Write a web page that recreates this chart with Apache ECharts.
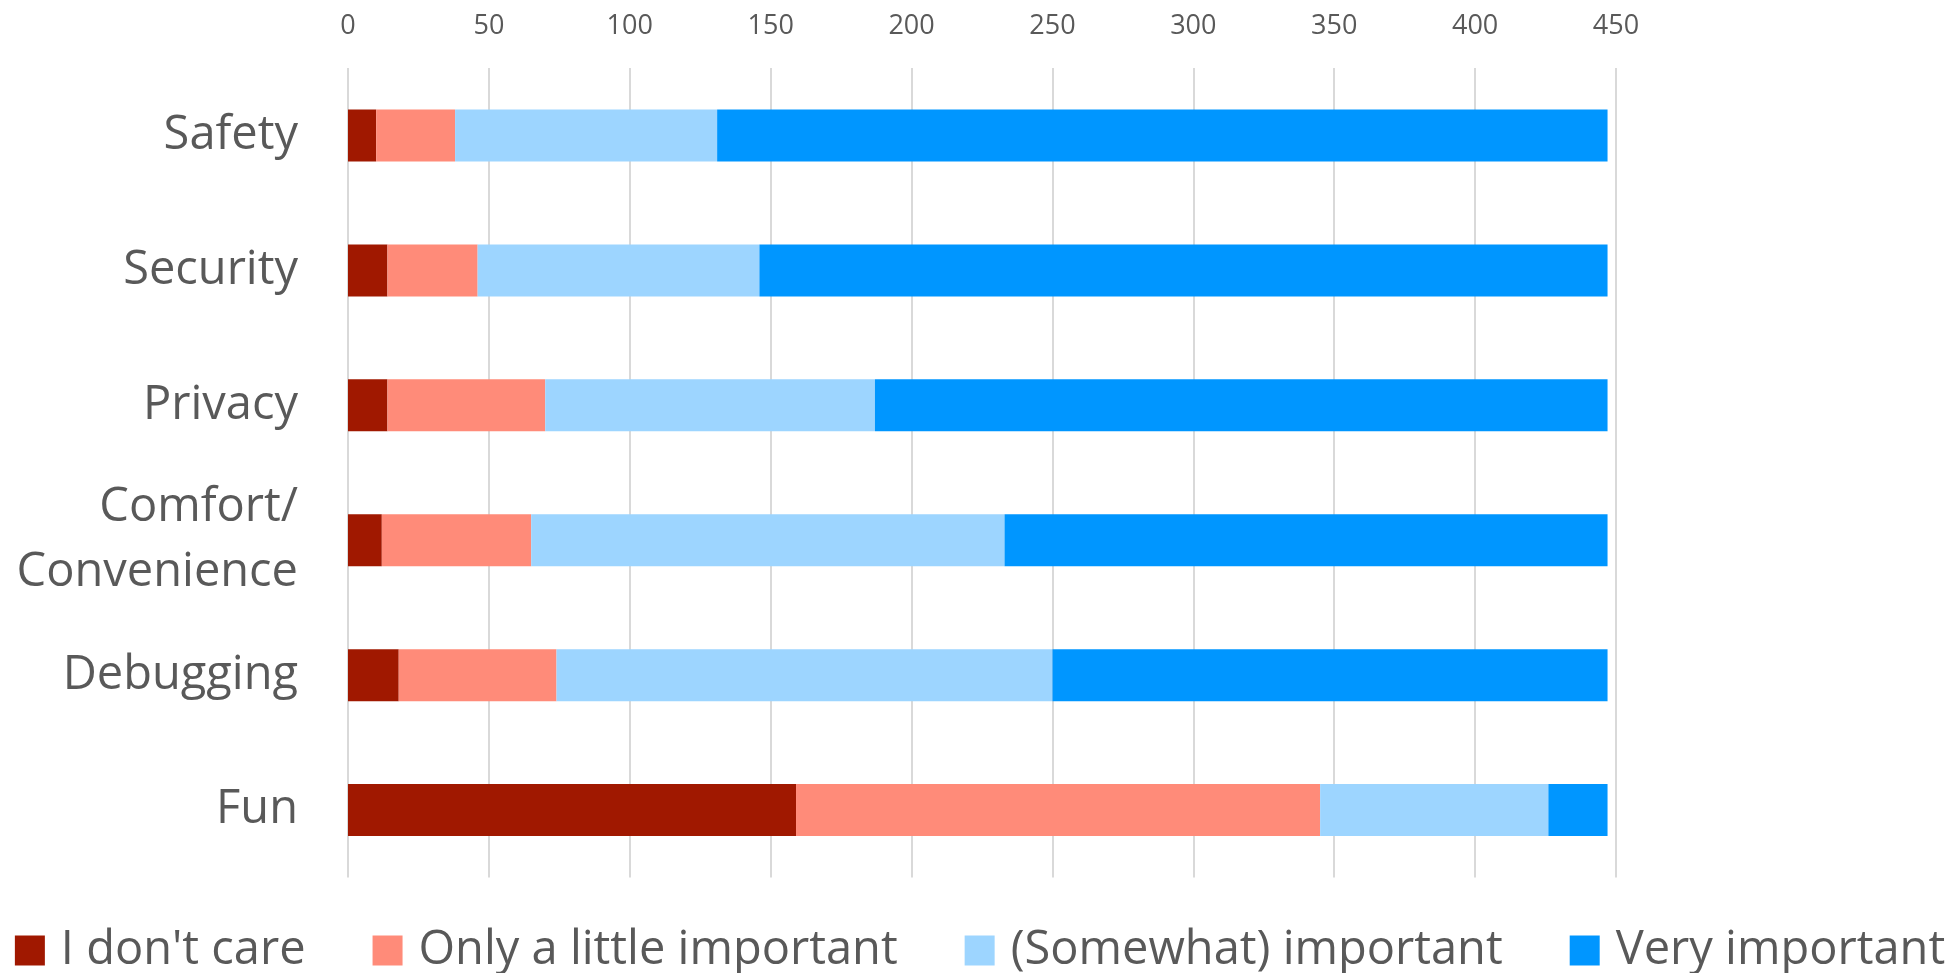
<!DOCTYPE html>
<html>
<head>
<meta charset="utf-8">
<script src="https://cdn.jsdelivr.net/npm/echarts@6/dist/echarts.min.js"></script>
<style>
html,body{margin:0;padding:0;background:#fff;}
#chart{width:1960px;height:973px;}
</style>
</head>
<body>
<div id="chart"></div>
<script>
const categories = ['Safety', 'Security', 'Privacy', 'Comfort/\nConvenience', 'Debugging', 'Fun'];
const seriesNames = ["I don't care", 'Only a little important', '(Somewhat) important', 'Very important'];
const dontCare = [10, 14, 14, 12, 18, 159];
const littleImportant = [28, 32, 56, 53, 56, 186];
const somewhatImportant = [93, 100, 117, 168, 176, 81];
const veryImportant = [316, 301, 260, 214, 197, 21];
const xTicks = { min: 0, max: 450, interval: 50 };
const colors = ['#A01800', '#FF8B79', '#9DD5FF', '#0096FF'];

const values = [dontCare, littleImportant, somewhatImportant, veryImportant];
const font = '"Open Sans", "Liberation Sans", sans-serif';
const chart = echarts.init(document.getElementById('chart'), null, {renderer: 'canvas'});
chart.setOption({
  animation: false,
  backgroundColor: '#ffffff',
  color: colors,
  grid: { left: 348, right: 344, top: 68, bottom: 95.5, containLabel: false },
  legend: {
    data: seriesNames,
    left: 'center',
    top: 922,
    icon: 'rect',
    itemWidth: 30,
    itemHeight: 30,
    itemGap: 67,
    textStyle: { fontFamily: font, fontSize: 47, color: '#595959', padding: [0, 0, 0, 11] }
  },
  xAxis: {
    type: 'value',
    position: 'top',
    min: xTicks.min,
    max: xTicks.max,
    interval: xTicks.interval,
    axisLine: { show: false },
    axisTick: { show: false },
    axisLabel: { fontFamily: font, fontSize: 27, color: '#595959', margin: 28 },
    splitLine: { lineStyle: { color: '#d9d9d9', width: 2 } }
  },
  yAxis: {
    type: 'category',
    inverse: true,
    data: categories,
    axisLine: { show: false },
    axisTick: { show: false },
    axisLabel: { fontFamily: font, fontSize: 47, color: '#595959', margin: 50, lineHeight: 65, align: 'right' }
  },
  series: seriesNames.map((name, i) => ({
    name: name,
    type: 'bar',
    stack: 'total',
    barWidth: 52,
    data: values[i],
    itemStyle: { color: colors[i] }
  }))
});
</script>
</body>
</html>
